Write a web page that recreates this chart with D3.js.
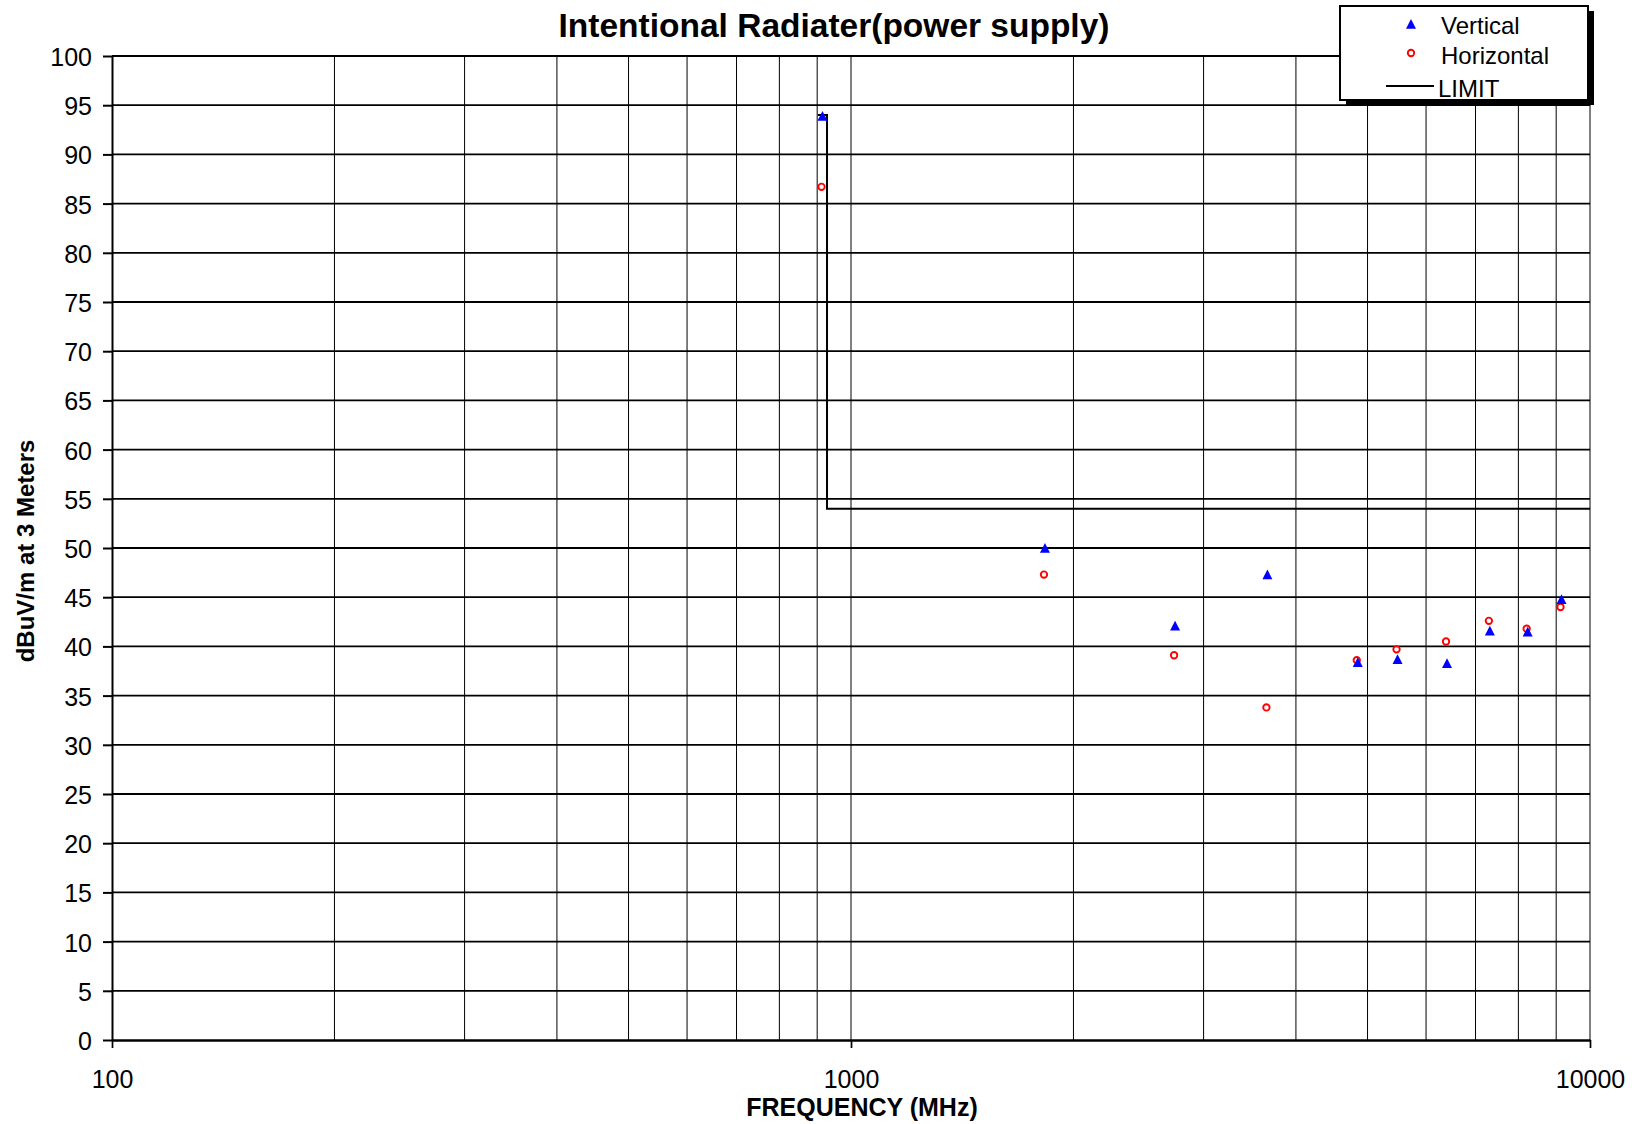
<!DOCTYPE html>
<html>
<head>
<meta charset="utf-8">
<script src="https://cdn.jsdelivr.net/npm/d3@7"></script>
<style>
  body { margin: 0; background: #fff; }
  svg { display: block; font-family: "Liberation Sans", Arial, sans-serif; }
</style>
</head>
<body>
<div id="chart"></div>
<script>
// measured points (MHz, dBuV/m)
var freqs      = [915, 1830, 2745, 3660, 4850, 5490, 6405, 7320, 8235, 9150];
var vertical   = [93.9, 50.0, 42.1, 47.3, 38.4, 38.7, 38.3, 41.6, 41.5, 44.8];
var horizontal = [86.7, 47.3, 39.1, 33.8, 38.6, 39.7, 40.5, 42.6, 41.8, 44.0];

// limit line
var limitFreq  = [902, 928, 928, 10000];
var limitLevel = [94, 94, 54, 54];

// ticks
var xTicks = [100, 1000, 10000];
var xGrid  = [200, 300, 400, 500, 600, 700, 800, 900, 1000,
              2000, 3000, 4000, 5000, 6000, 7000, 8000, 9000, 10000];
var yTicks = [0, 5, 10, 15, 20, 25, 30, 35, 40, 45, 50,
              55, 60, 65, 70, 75, 80, 85, 90, 95, 100];

var W = 1640, H = 1124;
var margin = { top: 56, right: 50, bottom: 84, left: 112 };

var svg = d3.select("#chart").append("svg")
    .attr("width", W)
    .attr("height", H);

var x = d3.scaleLog().domain([100, 10000]).range([margin.left, W - margin.right]);
var y = d3.scaleLinear().domain([0, 100]).range([H - margin.bottom, margin.top]);

// vertical grid
svg.append("g").selectAll("line")
    .data(xGrid)
    .enter().append("line")
    .attr("x1", function(d) { return x(d); })
    .attr("x2", function(d) { return x(d); })
    .attr("y1", y(0))
    .attr("y2", y(100))
    .attr("stroke", "#000")
    .attr("stroke-width", 1);

// horizontal grid
svg.append("g").selectAll("line")
    .data(yTicks.filter(function(d) { return d > 0; }))
    .enter().append("line")
    .attr("x1", x(100))
    .attr("x2", x(10000))
    .attr("y1", function(d) { return y(d); })
    .attr("y2", function(d) { return y(d); })
    .attr("stroke", "#000")
    .attr("stroke-width", 1.8);

// axes
var yAxis = svg.append("g")
    .attr("transform", "translate(" + x(100) + ",0)")
    .call(d3.axisLeft(y).tickValues(yTicks).tickSize(9).tickPadding(11).tickSizeOuter(0));
yAxis.select(".domain").attr("stroke-width", 2);
yAxis.selectAll(".tick line").attr("stroke-width", 2);
yAxis.selectAll(".tick text")
    .attr("font-size", "25px")
    .attr("font-family", "Liberation Sans, Arial, sans-serif")
    .attr("fill", "#000")
    .attr("dy", "0.38em");

var xAxis = svg.append("g")
    .attr("transform", "translate(0," + y(0) + ")")
    .call(d3.axisBottom(x).tickValues(xTicks).tickFormat(d3.format("d"))
        .tickSize(8).tickPadding(22).tickSizeOuter(0));
xAxis.select(".domain").attr("stroke-width", 2.5);
xAxis.selectAll(".tick line").attr("stroke-width", 1.7);
xAxis.selectAll(".tick text")
    .attr("font-size", "25px")
    .attr("font-family", "Liberation Sans, Arial, sans-serif")
    .attr("fill", "#000");

// limit
var limitData = limitFreq.map(function(f, i) { return [f, limitLevel[i]]; });
svg.append("path")
    .datum(limitData)
    .attr("fill", "none")
    .attr("stroke", "#000")
    .attr("stroke-width", 2)
    .attr("d", d3.line()
        .x(function(d) { return x(d[0]); })
        .y(function(d) { return y(d[1]); }));

// markers
var tri = "M0,-5L5,4.8L-5,4.8Z";

svg.append("g").selectAll("circle")
    .data(freqs)
    .enter().append("circle")
    .attr("cx", function(d) { return x(d) - 1; })
    .attr("cy", function(d, i) { return y(horizontal[i]); })
    .attr("r", 3.2)
    .attr("fill", "none")
    .attr("stroke", "#ff0000")
    .attr("stroke-width", 1.9);

svg.append("g").selectAll("path")
    .data(freqs)
    .enter().append("path")
    .attr("d", tri)
    .attr("transform", function(d, i) {
        return "translate(" + x(d) + "," + y(vertical[i]) + ")";
    })
    .attr("fill", "#0000ff");

// legend
var lg = svg.append("g").attr("transform", "translate(1340,6)");
lg.append("rect")
    .attr("x", 6).attr("y", 5)
    .attr("width", 248).attr("height", 94)
    .attr("fill", "#000");
lg.append("rect")
    .attr("x", 0).attr("y", 0)
    .attr("width", 248).attr("height", 94)
    .attr("fill", "#fff")
    .attr("stroke", "#000")
    .attr("stroke-width", 2);
lg.append("path")
    .attr("d", tri)
    .attr("transform", "translate(71,18)")
    .attr("fill", "#0000ff");
lg.append("circle")
    .attr("cx", 71).attr("cy", 47).attr("r", 3.2)
    .attr("fill", "none")
    .attr("stroke", "#ff0000")
    .attr("stroke-width", 1.9);
lg.append("line")
    .attr("x1", 46).attr("x2", 94)
    .attr("y1", 80).attr("y2", 80)
    .attr("stroke", "#000")
    .attr("stroke-width", 2);
var legendLabels = ["Vertical", "Horizontal", "LIMIT"];
var legendBase = [28, 58, 91];
lg.selectAll("text.leg")
    .data(legendLabels)
    .enter().append("text")
    .attr("class", "leg")
    .attr("x", function(d, i) { return i === 2 ? 98 : 101; })
    .attr("y", function(d, i) { return legendBase[i]; })
    .attr("font-size", "24px")
    .text(function(d) { return d; });

// titles
svg.append("text")
    .attr("x", 834)
    .attr("y", 37)
    .attr("text-anchor", "middle")
    .attr("font-size", "33.5px")
    .attr("font-weight", "bold")
    .text("Intentional Radiater(power supply)");

svg.append("text")
    .attr("x", 862)
    .attr("y", 1116)
    .attr("text-anchor", "middle")
    .attr("font-size", "25px")
    .attr("font-weight", "bold")
    .text("FREQUENCY (MHz)");

svg.append("text")
    .attr("transform", "translate(34,551) rotate(-90)")
    .attr("text-anchor", "middle")
    .attr("font-size", "24px")
    .attr("font-weight", "bold")
    .text("dBuV/m at 3 Meters");
</script>
</body>
</html>
